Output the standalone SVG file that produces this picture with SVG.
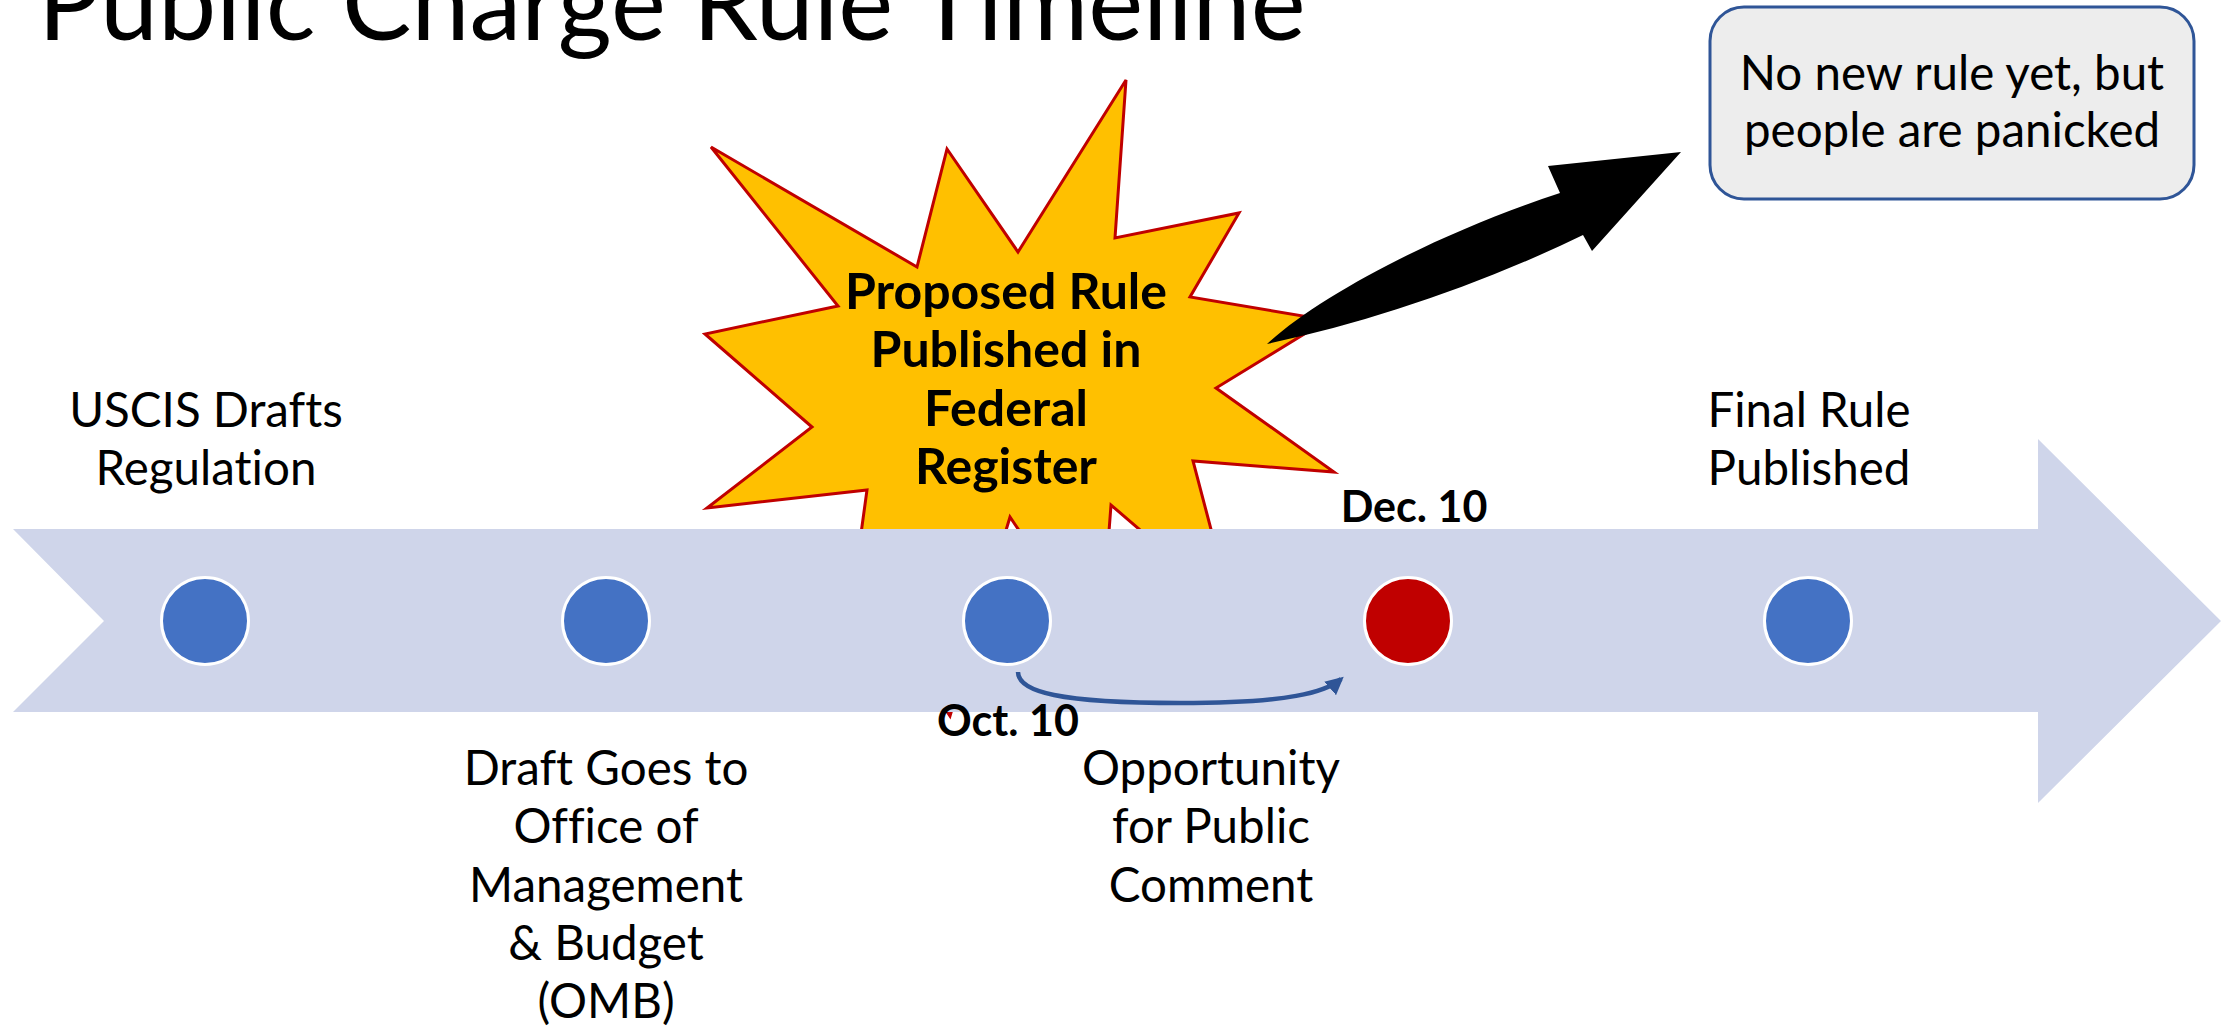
<svg xmlns="http://www.w3.org/2000/svg" width="2236" height="1031" viewBox="0 0 2236 1031">
  <style>
    text { font-variant-ligatures: none; }
    .lbl { font-family: Lato, "Liberation Sans", sans-serif; font-size: 47.5px; fill: #000; text-anchor: middle; }
    .bold { font-family: Lato, "Liberation Sans", sans-serif; font-weight: bold; fill: #000; text-anchor: middle; }
    .dot { stroke: #fff; stroke-width: 3; }
    .blue { fill: #4472C4; }
    .red { fill: #C00000; }
  </style>
  <defs>
    <marker id="tip" viewBox="0 0 10 10" refX="8" refY="5" markerWidth="4" markerHeight="4" orient="auto" markerUnits="strokeWidth">
      <path d="M0,0 L10,5 L0,10 Z" fill="#2F5597"/>
    </marker>
  </defs>

  <rect width="2236" height="1031" fill="#fff"/>

  <!-- Title -->
  <text x="38" y="40" font-family="Lato, 'Liberation Sans', sans-serif" font-size="104" fill="#000">Public Charge Rule Timeline</text>

  <!-- Starburst behind the timeline band -->
  <g id="starburst">
    <polygon fill="#FFC000" stroke="#C00000" stroke-width="3" stroke-linejoin="miter"
      points="711,147 917,267 947,149 1018,252 1126,80 1115,238 1239,213 1190,297 1327,320 1216,388 1334,472 1193,461 1232,609 1111,505 1100,650 1010,517 950,716 900,640 845,650 867,490 707,508 812,427 705,334 838,306"/>
  </g>

  <!-- Timeline band -->
  <g id="band">
    <polygon fill="#CFD5EA" points="13,529 2038,529 2038,439 2221,621 2038,803 2038,712 13,712 104,621"/>
  </g>

  <!-- Starburst caption -->
  <g id="proposed-label">
    <text class="bold" font-size="50" x="1006" y="309">Proposed Rule</text>
    <text class="bold" font-size="50" x="1006" y="367">Published in</text>
    <text class="bold" font-size="50" x="1006" y="426">Federal</text>
    <text class="bold" font-size="50" x="1006" y="484">Register</text>
  </g>

  <!-- Milestones -->
  <g id="m1">
    <circle class="dot blue" cx="205" cy="621" r="43.5"/>
    <text class="lbl" x="206" y="427">USCIS Drafts</text>
    <text class="lbl" x="206" y="485">Regulation</text>
  </g>
  <g id="m2">
    <circle class="dot blue" cx="606" cy="621" r="43.5"/>
    <text class="lbl" x="606" y="785">Draft Goes to</text>
    <text class="lbl" x="606" y="843">Office of</text>
    <text class="lbl" x="606" y="902">Management</text>
    <text class="lbl" x="606" y="960">&amp; Budget</text>
    <text class="lbl" x="606" y="1018">(OMB)</text>
  </g>
  <g id="m3">
    <circle class="dot blue" cx="1007" cy="621" r="43.5"/>
    <text class="bold" font-size="43" x="1008" y="736">Oct. 10</text>
  </g>
  <g id="m4">
    <circle class="dot red" cx="1408" cy="621" r="43.5"/>
    <text class="bold" font-size="43" x="1414" y="522">Dec. 10</text>
    <text class="lbl" x="1211" y="785">Opportunity</text>
    <text class="lbl" x="1211" y="843">for Public</text>
    <text class="lbl" x="1211" y="902">Comment</text>
  </g>
  <g id="m5">
    <circle class="dot blue" cx="1808" cy="621" r="43.5"/>
    <text class="lbl" x="1809" y="427">Final Rule</text>
    <text class="lbl" x="1809" y="485">Published</text>
  </g>

  <!-- Callout -->
  <g id="callout">
    <rect x="1710" y="7" width="484" height="192" rx="34" fill="#EDEDED" stroke="#2F5597" stroke-width="3"/>
    <text class="lbl" font-size="39.5" x="1952" y="90">No new rule yet, but</text>
    <text class="lbl" font-size="39.5" x="1952" y="147">people are panicked</text>
  </g>

  <!-- Connectors -->
  <g id="connectors">
    <path d="M1018,672 C1018,692 1060,703 1180,703 C1290,703 1326,692 1341,679" fill="none" stroke="#2F5597" stroke-width="4.5" marker-end="url(#tip)"/>
    <path d="M1267,344 C1320,295 1440,232 1560,193 L1548,166 L1681,152 L1592,251 L1583,235 C1480,285 1370,322 1267,344 Z" fill="#000"/>
  </g>
</svg>
